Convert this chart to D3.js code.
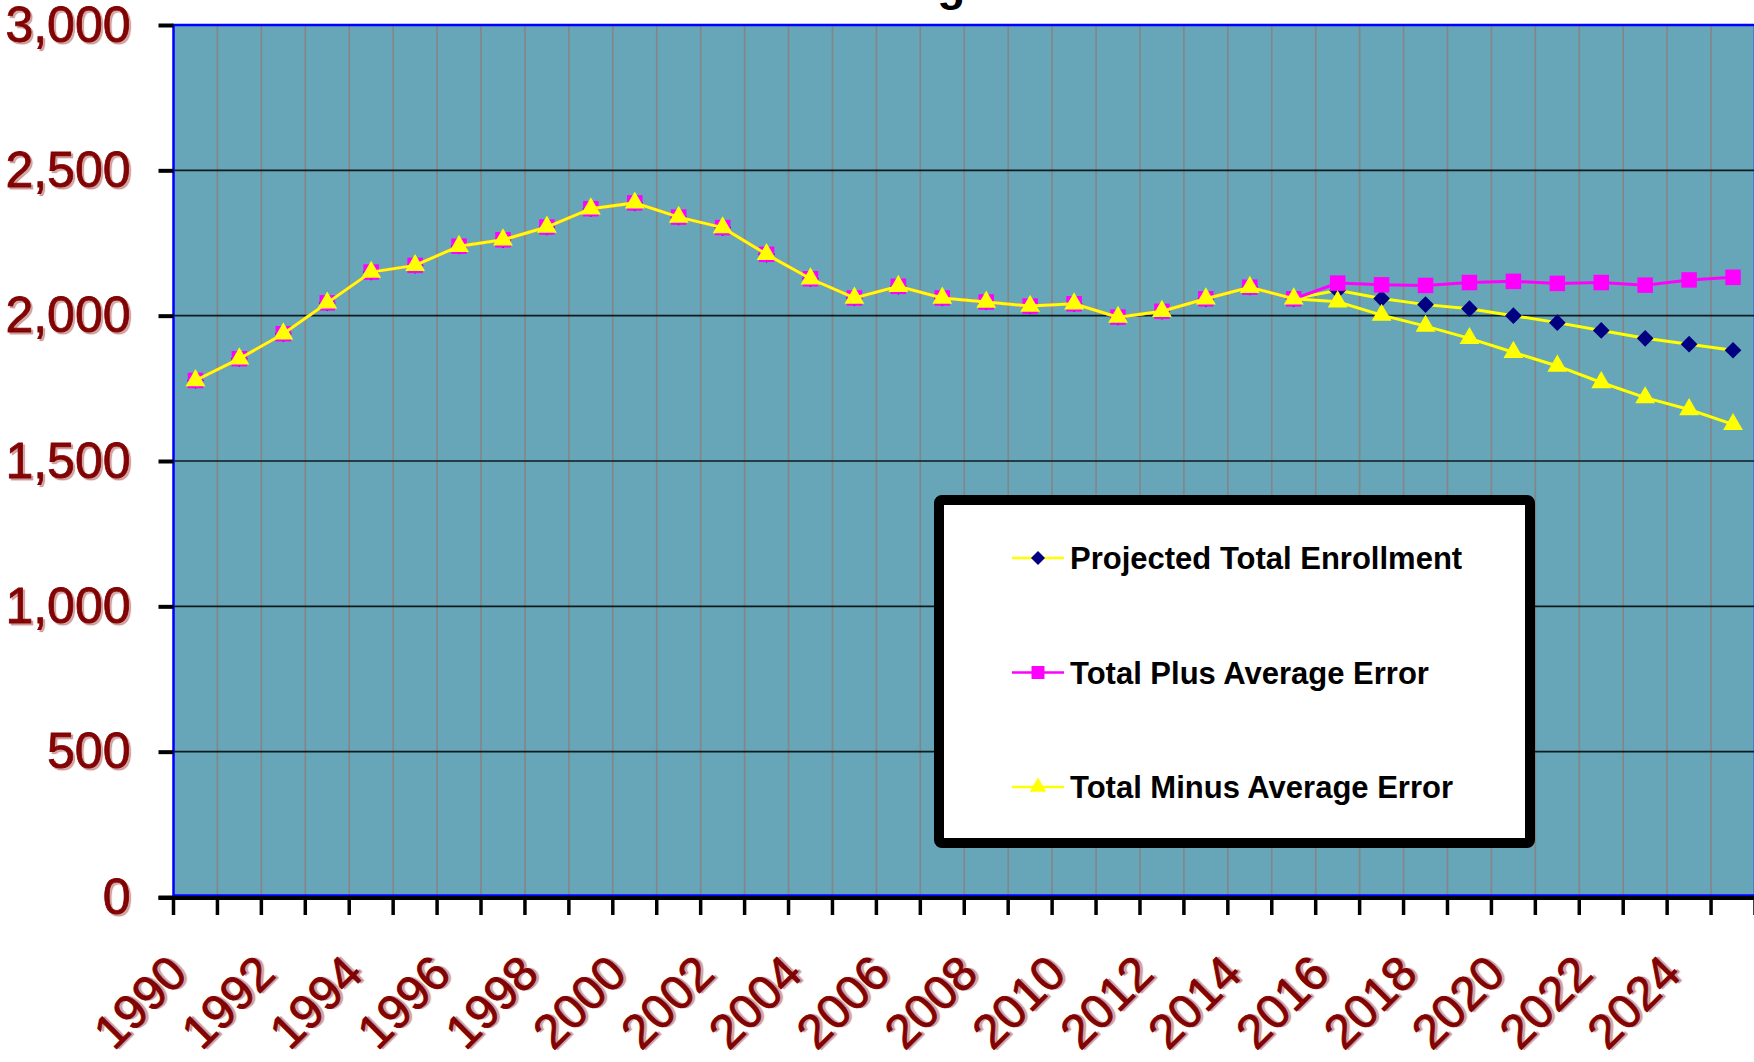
<!DOCTYPE html>
<html>
<head>
<meta charset="utf-8">
<script src="https://cdn.jsdelivr.net/npm/d3@7"></script>
<style>
  body { margin: 0; background: #ffffff; }
  svg { display: block; }
</style>
</head>
<body>
<div id="chart"></div>
<script>
// enrollment chart, values
var years = [1990, 1991, 1992, 1993, 1994, 1995, 1996, 1997, 1998, 1999,
  2000, 2001, 2002, 2003, 2004, 2005, 2006, 2007, 2008, 2009,
  2010, 2011, 2012, 2013, 2014, 2015, 2016, 2017, 2018, 2019,
  2020, 2021, 2022, 2023, 2024, 2025];

var projectedTotal = [1777, 1852, 1938, 2044, 2150, 2173, 2239, 2261, 2305, 2368,
  2388, 2339, 2303, 2211, 2127, 2061, 2101, 2061, 2047, 2033,
  2041, 1995, 2015, 2058, 2098, 2058, 2087, 2059, 2038, 2024,
  2000, 1976, 1949, 1922, 1902, 1881];

var plusError = [1777, 1852, 1938, 2044, 2150, 2173, 2239, 2261, 2305, 2368,
  2388, 2339, 2303, 2211, 2127, 2061, 2101, 2061, 2047, 2033,
  2041, 1995, 2015, 2058, 2098, 2058, 2112, 2106, 2104, 2114,
  2118, 2111, 2114, 2105, 2123, 2132];

var minusError = [1777, 1852, 1938, 2044, 2150, 2173, 2239, 2261, 2305, 2368,
  2388, 2339, 2303, 2211, 2127, 2061, 2101, 2061, 2047, 2033,
  2041, 1995, 2015, 2058, 2098, 2058, 2048, 2002, 1964, 1922,
  1874, 1827, 1770, 1718, 1677, 1626];

var yTicks = [0, 500, 1000, 1500, 2000, 2500, 3000];
var labelYears = [1990, 1992, 1994, 1996, 1998, 2000, 2002, 2004, 2006, 2008,
  2010, 2012, 2014, 2016, 2018, 2020, 2022, 2024];

var seriesNames = ["Projected Total Enrollment", "Total Plus Average Error", "Total Minus Average Error"];

(function () {
  var width = 1754,
    height = 1062;

  var left = 173.5, right = 1755, top = 25, bottom = 897;

  var svg = d3.select("#chart")
    .append("svg")
    .attr("width", width)
    .attr("height", height);

  var x = d3.scaleBand().domain(years).range([left, right]).paddingInner(0).paddingOuter(0);
  var y = d3.scaleLinear().domain([0, 3000]).range([bottom, top]);

  var redText = "#800000";

  // title, mostly above the visible area
  svg.append("text")
    .attr("x", 991)
    .attr("y", 0)
    .attr("text-anchor", "end")
    .style("font-family", "'Liberation Sans', Arial, sans-serif")
    .style("font-weight", "bold")
    .style("font-size", "46px")
    .attr("fill", "#000000")
    .text("Total Enrollment Range");

  // plot background
  svg.append("rect")
    .attr("x", left)
    .attr("y", top)
    .attr("width", right - left)
    .attr("height", bottom - top)
    .attr("fill", "#66a6b8");

  // vertical gridlines at category edges
  var edges = years.map(function (d) { return x(d); }).concat([x.range()[1]]);

  svg.selectAll(".vgrid")
    .data(edges.slice(1))
    .enter().append("line")
    .attr("class", "vgrid")
    .attr("x1", function (d) { return d; })
    .attr("x2", function (d) { return d; })
    .attr("y1", top)
    .attr("y2", bottom)
    .attr("stroke", "#858585")
    .attr("stroke-width", 1.6);

  // horizontal gridlines
  svg.selectAll(".hgrid")
    .data(yTicks.filter(function (d) { return d > 0 && d < 3000; }))
    .enter().append("line")
    .attr("class", "hgrid")
    .attr("x1", left)
    .attr("x2", right)
    .attr("y1", function (d) { return y(d); })
    .attr("y2", function (d) { return y(d); })
    .attr("stroke", "#0d1a1e")
    .attr("stroke-width", 1.6);

  // blue plot border
  svg.append("rect")
    .attr("x", left)
    .attr("y", top)
    .attr("width", right - left)
    .attr("height", bottom - top - 1.5)
    .attr("fill", "none")
    .attr("stroke", "#0000ff")
    .attr("stroke-width", 2.5);

  // y axis
  var yAxis = d3.axisLeft(y)
    .tickValues(yTicks)
    .tickSize(15)
    .tickPadding(28)
    .tickFormat(d3.format(","));

  var yg = svg.append("g")
    .attr("transform", "translate(" + left + ",0)")
    .call(yAxis);

  yg.select(".domain").remove();
  yg.selectAll(".tick line")
    .attr("stroke", "#000000")
    .attr("stroke-width", 4);
  yg.selectAll(".tick text")
    .attr("fill", redText)
    .attr("stroke", redText)
    .attr("stroke-width", 0.8)
    .style("font-family", "'Liberation Sans', Arial, sans-serif")
    .style("font-size", "50px")
    .style("text-shadow", "2px 2px 1px rgba(150,40,40,0.4)");

  // x axis line and ticks
  svg.append("line")
    .attr("x1", left - 15)
    .attr("x2", right)
    .attr("y1", bottom + 1)
    .attr("y2", bottom + 1)
    .attr("stroke", "#000000")
    .attr("stroke-width", 4);

  svg.selectAll(".xtick")
    .data(edges)
    .enter().append("line")
    .attr("class", "xtick")
    .attr("x1", function (d) { return d; })
    .attr("x2", function (d) { return d; })
    .attr("y1", bottom)
    .attr("y2", bottom + 18)
    .attr("stroke", "#000000")
    .attr("stroke-width", 3.5);

  svg.selectAll(".xlabel")
    .data(labelYears)
    .enter().append("text")
    .attr("class", "xlabel")
    .attr("transform", function (d) {
      return "translate(" + (x(d) + x.bandwidth() / 2 - 6) + "," + 976 + ") rotate(-45)";
    })
    .attr("text-anchor", "end")
    .attr("fill", redText)
    .attr("stroke", redText)
    .attr("stroke-width", 0.8)
    .style("font-family", "'Liberation Sans', Arial, sans-serif")
    .style("font-size", "48px")
    .style("text-shadow", "2px 2px 1px rgba(150,40,40,0.4)")
    .text(function (d) { return d; });

  // series
  var cx = function (i) { return x(years[i]) + x.bandwidth() / 2; };
  var line = d3.line()
    .x(function (d, i) { return cx(i); })
    .y(function (d) { return y(d); });

  var series = [
    { name: seriesNames[0], values: projectedTotal, stroke: "#ffff00", marker: d3.symbolSquare, rotate: 45, fill: "#000080", size: 140 },
    { name: seriesNames[1], values: plusError, stroke: "#ff00ff", marker: d3.symbolSquare, rotate: 0, fill: "#ff00ff", size: 240 },
    { name: seriesNames[2], values: minusError, stroke: "#ffff00", marker: d3.symbolTriangle, rotate: 0, fill: "#ffff00", size: 170 }
  ];

  series.forEach(function (s) {
    svg.append("path")
      .datum(s.values)
      .attr("d", line)
      .attr("fill", "none")
      .attr("stroke", s.stroke)
      .attr("stroke-width", 3);

    svg.selectAll(null)
      .data(s.values)
      .enter().append("path")
      .attr("transform", function (d, i) {
        return "translate(" + cx(i) + "," + y(d) + ") rotate(" + s.rotate + ")";
      })
      .attr("d", d3.symbol().type(s.marker).size(s.size))
      .attr("fill", s.fill);
  });

  // legend
  var legend = svg.append("g");

  legend.append("rect")
    .attr("x", 939)
    .attr("y", 500)
    .attr("width", 591)
    .attr("height", 343)
    .attr("rx", 3)
    .attr("fill", "#ffffff")
    .attr("stroke", "#000000")
    .attr("stroke-width", 10);

  var rows = legend.selectAll(".legend_row")
    .data(series)
    .enter().append("g")
    .attr("class", "legend_row")
    .attr("transform", function (d, i) {
      return "translate(1012," + (558 + i * 114.5) + ")";
    });

  rows.append("line")
    .attr("x1", 0)
    .attr("x2", 52)
    .attr("y1", 0)
    .attr("y2", 0)
    .attr("stroke", function (d) { return d.stroke; })
    .attr("stroke-width", 2.5);

  rows.append("path")
    .attr("transform", function (d) { return "translate(26,0) rotate(" + d.rotate + ")"; })
    .attr("d", function (d) { return d3.symbol().type(d.marker).size(d.size * 0.7)(); })
    .attr("fill", function (d) { return d.fill; });

  rows.append("text")
    .attr("x", 58)
    .attr("y", 0)
    .attr("dy", "0.36em")
    .attr("fill", "#000000")
    .style("font-family", "'Liberation Sans', Arial, sans-serif")
    .style("font-weight", "bold")
    .style("font-size", "31px")
    .text(function (d) { return d.name; });
})();
</script>
</body>
</html>
